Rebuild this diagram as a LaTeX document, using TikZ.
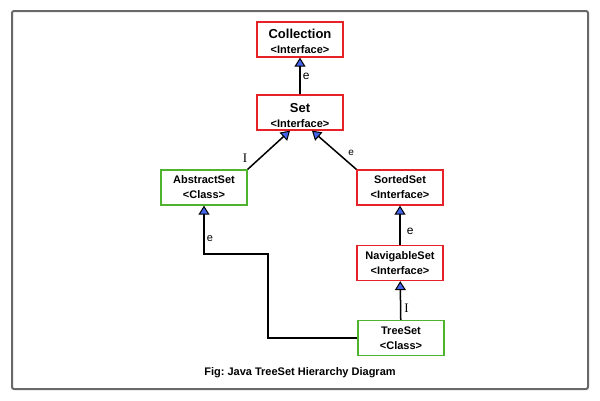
\documentclass[tikz,border=0pt]{standalone}
\usepackage{fontspec}
\setmainfont{Liberation Sans}
\newfontfamily\serifI{Liberation Serif}
\usetikzlibrary{arrows.meta}
\definecolor{boxred}{RGB}{230,34,40}
\definecolor{boxgreen}{RGB}{78,180,46}
\definecolor{tipblue}{RGB}{66,100,232}
\definecolor{framegray}{RGB}{105,105,105}
\begin{document}
\begin{tikzpicture}[x=1pt,y=-1pt]
			\tikzstyle{IF}=[rectangle,draw=boxred,line width=1.3pt,minimum width=86pt,minimum height=35pt,align=center,inner sep=1pt,font=\bfseries\fontsize{11}{15}\selectfont]
			\tikzstyle{CL}=[IF,draw=boxgreen]
			\tikzstyle{lbl}=[font=\fontsize{12}{12}\selectfont,inner sep=2pt]
			\tikzstyle{arr}=[line width=1.5pt,-{Triangle[fill=tipblue,length=9pt,width=11pt,line width=1pt]}]
			\useasboundingbox (0,0) rectangle (600,400);
			\draw[framegray,line width=2pt,rounded corners=2pt] (12,11) rectangle (588,389);
			\begin{scope}
			\node[IF] (collection) at (300,39.5) {\rule{0pt}{13pt}{\fontsize{13}{14}\selectfont Collection}\\<Interface>};
			\node[IF,inner sep=0pt] (set) at (300,112.5) {\rule{0pt}{16pt}{\fontsize{13}{14}\selectfont Set}\\<Interface>};
			\node[CL] (abstractset) at (204,187.5) {AbstractSet\\<Class>};
			\node[IF] (sortedset) at (400,187.5) {SortedSet\\<Interface>};
			\node[IF] (navigableset) at (400,263) {NavigableSet\\<Interface>};
			\node[CL] (treeset) at (401,338) {TreeSet\\<Class>};
			\coordinate (bend) at (268,254);
			\end{scope}
			
			\path[every edge/.append style={arr}]
			(set) edge node[lbl,right] {e} (collection)
			(abstractset.north east) edge node[lbl,above left,pos=0.1,xshift=-2pt,font=\fontsize{13}{13}\selectfont] {\serifI I} ([xshift=-10pt]set.south)
			(sortedset.north west) edge node[lbl,right,pos=0.4,font=\fontsize{10}{10}\selectfont,xshift=7pt,yshift=1pt] {e} ([xshift=12pt]set.south)
			(navigableset) edge node[lbl,right,pos=0.35,xshift=4pt] {e} (sortedset)
			(treeset) edge node[lbl,right,pos=0.3,xshift=1pt,font=\fontsize{13}{13}\selectfont] {\serifI I} (navigableset)
			;
			\draw[arr] (treeset.west) -| (bend) -| node[lbl,right,pos=0.66,font=\fontsize{11}{11}\selectfont] {e} (abstractset.south);
			
			\node[font=\bfseries\fontsize{11}{13}\selectfont] (caption) at (300,373) {Fig:\ Java TreeSet Hierarchy Diagram};
		\end{tikzpicture}
\end{document}
